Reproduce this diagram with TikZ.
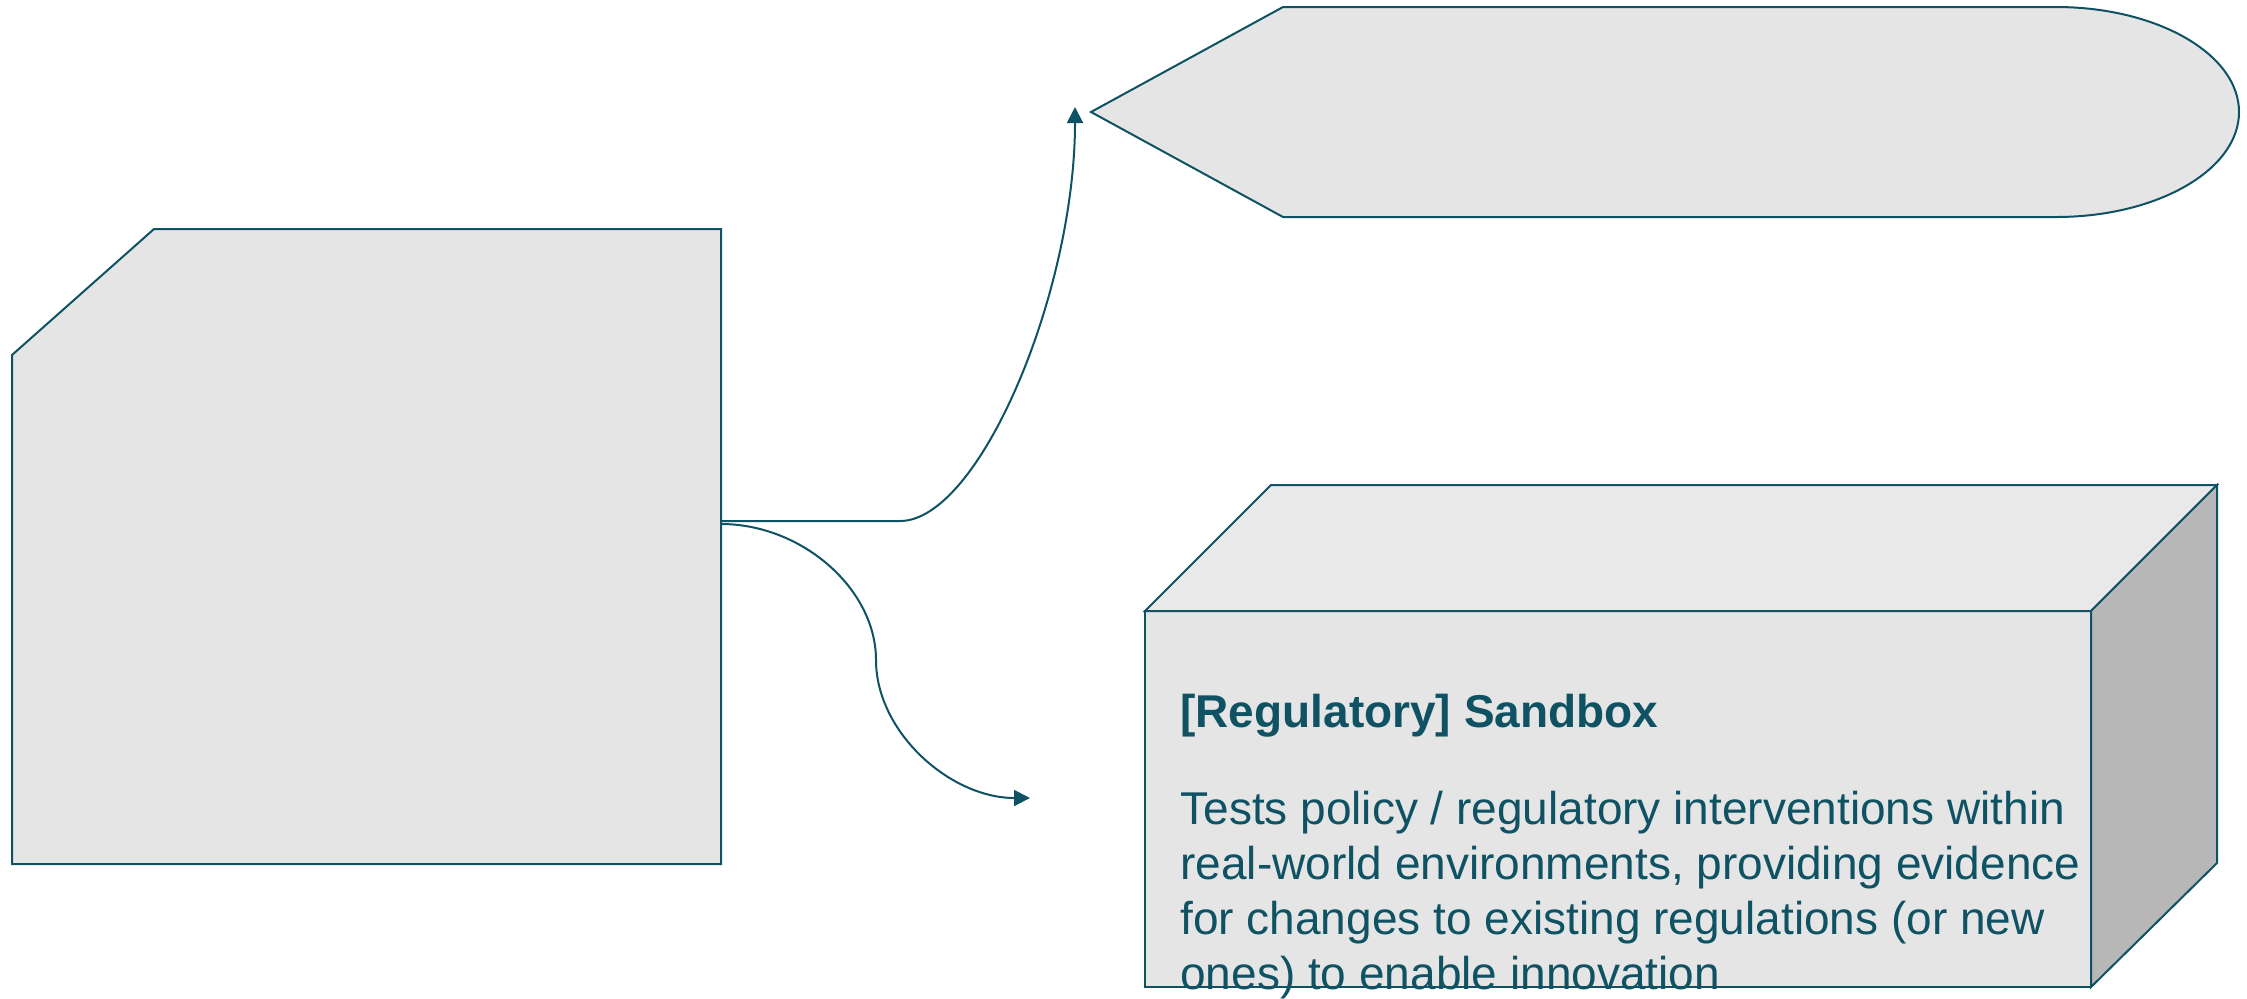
\documentclass[tikz,border=0pt]{standalone}
\usepackage{fontspec}
\setmainfont{Liberation Sans}
\usetikzlibrary{arrows.meta}
\definecolor{lineteal}{HTML}{0E5263}
\definecolor{boxgray}{HTML}{E5E5E5}
\definecolor{topgray}{HTML}{E9E9E9}
\definecolor{sidegray}{HTML}{B7B7B7}
\tikzset{
  shapeline/.style={draw=lineteal, line width=1pt, line join=miter},
  conn/.style={draw=lineteal, line width=1pt, -{Triangle[length=8pt,width=8pt]}},
  boxtext/.style={anchor=base west, inner sep=0pt, text=lineteal, align=left},
}
\begin{document}
\begin{tikzpicture}[x=0.5pt,y=-0.5pt]
\useasboundingbox (0,0) rectangle (2247,998);

% left snipped box
\draw[shapeline, fill=boxgray] (12,355) -- (154,229) -- (721,229) -- (721,864) -- (12,864) -- cycle;
\coordinate (srcA) at (721,521);
\coordinate (srcB) at (721,524);

% top pentagon / rounded arrow shape
\draw[shapeline, fill=boxgray] (1091,112) -- (1283,7) -- (2056,7)
  .. controls (2157,7) and (2239,54) .. (2239,112)
  .. controls (2239,170) and (2157,217) .. (2056,217)
  -- (1283,217) -- cycle;
\coordinate (tipA) at (1075,107);

% cube
\draw[shapeline, fill=boxgray] (1145,611) rectangle (2091,987);
\draw[shapeline, fill=topgray] (1145,611) -- (1271,485) -- (2217,485) -- (2091,611) -- cycle;
\draw[shapeline, fill=sidegray] (2091,611) -- (2217,485) -- (2217,863) -- (2091,987) -- cycle;
\coordinate (tipB) at (1030,798);

% texts
\node[boxtext, font=\bfseries\fontsize{23}{27.4}\selectfont] (title) at (1180,727) {[Regulatory] Sandbox};
\node[boxtext, font=\fontsize{23}{27.4}\selectfont] (body) at (1180,989)
  {Tests policy / regulatory interventions within\\
   real-world environments, providing evidence\\
   for changes to existing regulations (or new\\
   ones) to enable innovation};

% connectors
\draw[conn] (srcA) -- (900,521) .. controls (979,521) and (1075,293) .. (tipA);
\draw[conn] (srcB) .. controls (802,524) and (876,589) .. (876,660)
  .. controls (876,732) and (950,798) .. (tipB);
\end{tikzpicture}
\end{document}
